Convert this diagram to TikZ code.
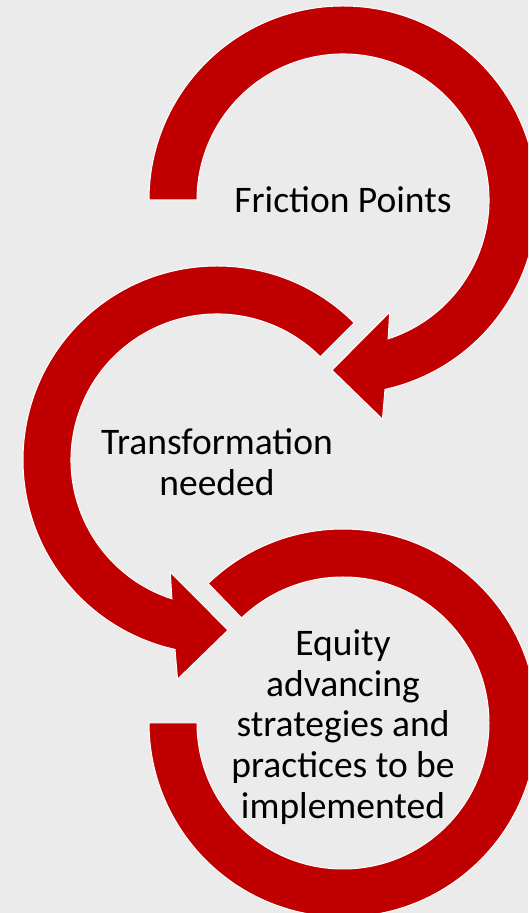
\documentclass[tikz,border=0pt]{standalone}
\usepackage{fontspec}
\setmainfont{Carlito}
\definecolor{ringred}{HTML}{C00000}
\definecolor{slidegray}{HTML}{EBEBEB}
\begin{document}
\begin{tikzpicture}[x=1pt, y=1pt,
  ring/.style={fill=ringred, draw=white, line width=1pt, line join=miter},
  lbl/.style={align=center, inner sep=0pt, font=\fontsize{37.5}{40.8}\selectfont}]
\fill[slidegray] (0,0) rectangle (528,913);
\useasboundingbox (0,0) rectangle (528,913);
\clip (0,0) rectangle (528,913);
\coordinate (c1) at (343,713);
\coordinate (c2) at (217,453);
\coordinate (c3) at (343,190);
\path[ring, shift={(c1)}] (180:194) arc[start angle=180, end angle=-77.5, radius=194]
  -- (-79.8:222.7) -- (-93.7:170.5) -- (-67.4:121.5) -- (-72:146)
  arc[start angle=-72, end angle=180, radius=146] -- cycle;
\path[ring, shift={(c2)}] (45:194) arc[start angle=45, end angle=257.5, radius=194]
  -- (259.8:222.7) -- (273.7:170.5) -- (247.4:121.5) -- (252:146)
  arc[start angle=252, end angle=45, radius=146] -- cycle;
\path[ring, shift={(c3)}] (134:194) arc[start angle=134, end angle=-180, radius=194]
  -- (180:146) arc[start angle=-180, end angle=134, radius=146] -- cycle;
\node[lbl] (fric) at (c1) {Friction Points};
\node[lbl] (trans) at ([yshift=-2]c2) {Transformation\\needed};
\node[lbl] (equity) at ([yshift=-4]c3) {Equity\\advancing\\strategies and\\practices to be\\implemented};
\end{tikzpicture}
\end{document}
